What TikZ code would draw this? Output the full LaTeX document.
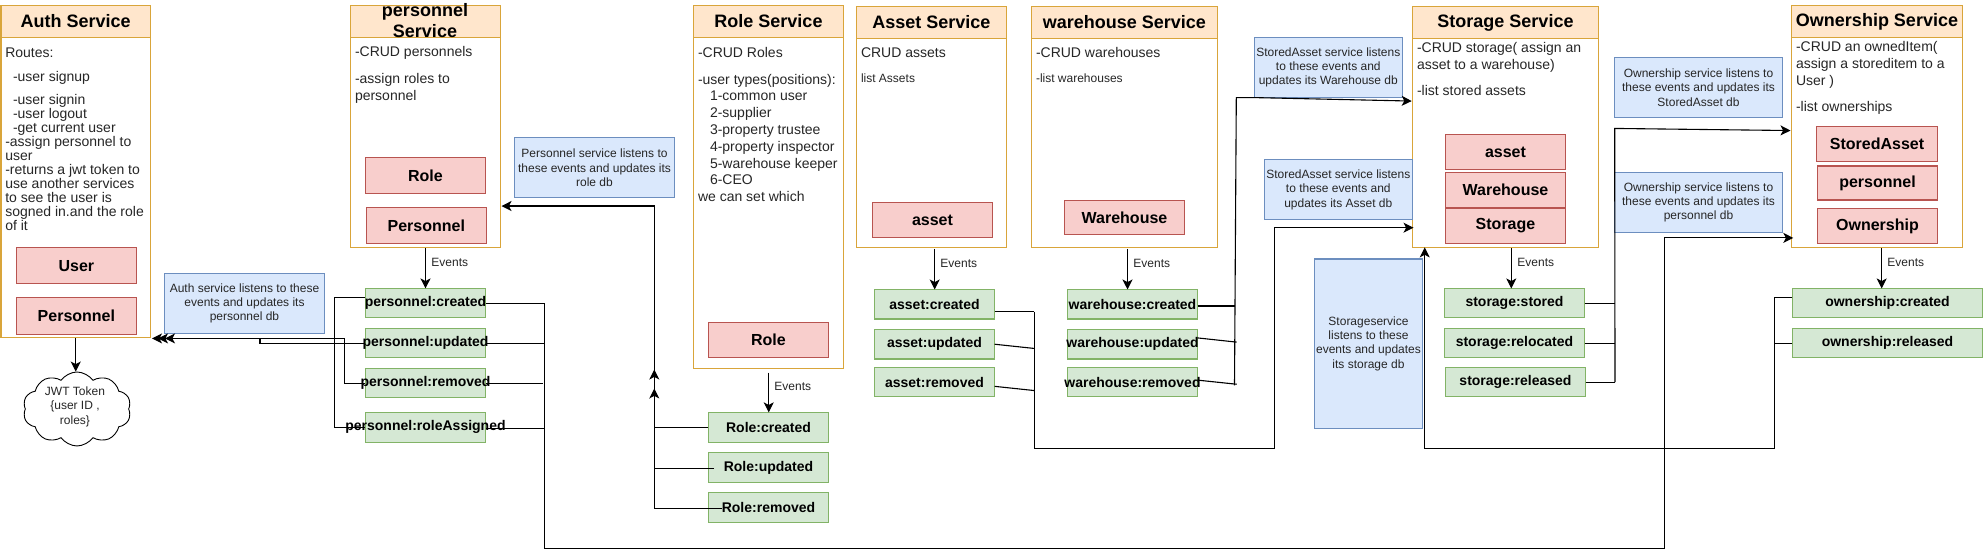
\documentclass[tikz,border=0pt]{standalone}
\usepackage{fontspec}
\setmainfont{Liberation Sans}
\usetikzlibrary{arrows.meta,calc,shapes.symbols}
\definecolor{ofill}{HTML}{FFE6CC}\definecolor{oline}{HTML}{D9A53A}
\definecolor{rfill}{HTML}{F8CECC}\definecolor{rline}{HTML}{B85450}
\definecolor{gfill}{HTML}{D5E8D4}\definecolor{gline}{HTML}{82B366}
\definecolor{bfill}{HTML}{DAE8FC}\definecolor{bline}{HTML}{6C8EBF}
\definecolor{txt}{HTML}{262626}
\newcommand{\bx}[7]{\node[#2,minimum width={(#5-#3)*0.5pt},minimum height={(#6-#4)*0.52635pt}] (#1) at ({(#3+#5)/2},{(#4+#6)/2}) {#7};}
\newcommand{\mk}[1]{\makebox[0pt]{#1}}
\newcommand{\svc}[7]{\bx{#1}{svcbody}{#2}{#3}{#4}{#6}{}\bx{#1h}{svchead}{#2}{#3}{#4}{#5}{\mk{#7}}}
\tikzset{
 base/.style={inner sep=0pt,outer sep=0pt,line width=0.55pt,rectangle},
 svcbody/.style={base,draw=oline,fill=white},
 svchead/.style={base,draw=oline,fill=ofill,font=\fontsize{9}{10}\selectfont\bfseries},
 entity/.style={base,draw=rline,fill=rfill,font=\fontsize{8}{9}\selectfont\bfseries},
 event/.style={base,draw=gline,fill=gfill,font=\fontsize{7}{8}\selectfont\bfseries},
 note/.style={base,draw=bline,fill=bfill,align=center,text=txt,font=\fontsize{6}{7.1}\selectfont},
 body/.style={inner sep=0pt,outer sep=0pt,anchor=base west,align=left,text=txt,font=\fontsize{7}{8.4}\selectfont},
 bodysmall/.style={body,font=\fontsize{6}{7}\selectfont},
 evlabel/.style={inner sep=0pt,anchor=base west,text=txt,font=\fontsize{6}{7}\selectfont},
 wire/.style={line width=0.55pt,black},
 arrowwire/.style={wire,-{Stealth[length=5pt,width=5pt,inset=1.3pt]}},
}
\begin{document}
\begin{tikzpicture}[x=0.5pt,y=-0.52635pt]
\useasboundingbox (0,0) rectangle (1983,521.5);
\fill[white] (0,0) rectangle (1983,521.5);
% Services
\svc{auth}{1}{5}{150.5}{35.7}{321}{Auth Service}
\svc{pers}{350.7}{5}{500.3}{35.7}{235}{}
\node[inner sep=0pt,align=center,font=\fontsize{9}{10.5}\selectfont\bfseries] (perst) at (425,20) {personnel\\Service};
\svc{role}{693.7}{5}{843.3}{35.7}{349.7}{Role Service}
\svc{asset}{856.3}{6}{1006.3}{36.7}{235}{Asset Service}
\svc{ware}{1031.3}{6}{1217.3}{36.7}{235}{warehouse Service}
\svc{stor}{1412.3}{6}{1598.7}{36.7}{235}{Storage Service}
\svc{own}{1791.3}{5}{1962.7}{35.7}{235}{Ownership Service}
% Service text (the reference point is the baseline of the last line)
\node[body,font=\fontsize{7}{7}\selectfont] (authtxt) at (5.3,219) {Routes:\\[5pt]\hspace*{3.85pt}-user signup\\[4.5pt]\hspace*{3.85pt}-user signin\\\hspace*{3.85pt}-user logout\\\hspace*{3.85pt}-get current user\\-assign personnel to\\user\\-returns a jwt token to\\use another services\\to see the user is\\sogned in.and the role\\of it};
\node[body] (perstxt) at (355,95.5) {-CRUD personnels\\[5.2pt]-assign roles to\\personnel};
\node[body] (roletxt) at (698,191.5) {-CRUD Roles\\[5pt]-user types(positions):\\\hspace*{6pt}1-common user\\\hspace*{6pt}2-supplier\\\hspace*{6pt}3-property trustee\\\hspace*{6pt}4-property inspector\\\hspace*{6pt}5-warehouse keeper\\\hspace*{6pt}6-CEO\\we can set which};
\node[body] (assettxt) at (861,54.5) {CRUD assets};
\node[bodysmall] (assettxtb) at (861,78) {list Assets};
\node[body] (waretxt) at (1036,54.5) {-CRUD warehouses};
\node[bodysmall] (waretxtb) at (1036,78) {-list warehouses};
\node[body] (stortxt) at (1417,91) {-CRUD storage( assign an\\asset to a warehouse)\\[4.8pt]-list stored assets};
\node[body] (owntxt) at (1796,106) {-CRUD an ownedItem(\\assign a storeditem to a\\User )\\[4.8pt]-list ownerships};
% Entities
\bx{eUser}{entity}{16.3}{235.3}{136.5}{269.7}{\mk{User}}
\bx{ePers}{entity}{16.3}{283}{136.5}{317.5}{\mk{Personnel}}
\bx{pRole}{entity}{365.3}{149.7}{485.7}{184}{\mk{Role}}
\bx{pPers}{entity}{366.3}{197.3}{486.3}{231.7}{\mk{Personnel}}
\bx{rRole}{entity}{708.3}{306}{828.7}{340}{\mk{Role}}
\bx{aAsset}{entity}{872.3}{192.7}{992.7}{225.3}{\mk{asset}}
\bx{wWare}{entity}{1064.3}{190.7}{1184.7}{223}{\mk{Warehouse}}
\bx{sAsset}{entity}{1445.3}{128}{1565.7}{160.7}{\mk{asset}}
\bx{sWare}{entity}{1445.3}{164}{1565.7}{196.7}{\mk{Warehouse}}
\bx{sStor}{entity}{1445.3}{198}{1565.7}{231}{\mk{Storage}}
\bx{oStored}{entity}{1816.7}{120.3}{1937.3}{153}{\mk{StoredAsset}}
\bx{oPers}{entity}{1817.3}{157.7}{1937.7}{190}{\mk{personnel}}
\bx{oOwn}{entity}{1817.3}{198.3}{1937.7}{231}{\mk{Ownership}}
% Events
\bx{pc}{event}{365.3}{274}{485.7}{302}{\mk{personnel:created}}
\bx{pu}{event}{365.3}{312}{485.7}{340}{\mk{personnel:updated}}
\bx{pr}{event}{365.3}{350}{485.7}{378}{\mk{personnel:removed}}
\bx{pa}{event}{365.3}{392}{485.7}{420}{\mk{personnel:roleAssigned}}
\bx{rc}{event}{708.3}{391.7}{828.7}{420.3}{\mk{Role:created}}
\bx{ru}{event}{708.3}{429.7}{828.7}{458.3}{\mk{Role:updated}}
\bx{rr}{event}{708.3}{467.7}{828.7}{496.3}{\mk{Role:removed}}
\bx{ac}{event}{874.3}{275}{994.7}{303}{\mk{asset:created}}
\bx{au}{event}{874.3}{313}{994.7}{341}{\mk{asset:updated}}
\bx{ar}{event}{874.3}{349}{994.7}{377}{\mk{asset:removed}}
\bx{wc}{event}{1067.3}{275}{1197.7}{303}{\mk{warehouse:created}}
\bx{wu}{event}{1067.3}{313}{1197.7}{341}{\mk{warehouse:updated}}
\bx{wr}{event}{1067.3}{349}{1197.7}{377}{\mk{warehouse:removed}}
\bx{ss}{event}{1444.3}{274}{1584.7}{302}{\mk{storage:stored}}
\bx{sl}{event}{1444.3}{312}{1584.7}{340}{\mk{storage:relocated}}
\bx{sr}{event}{1445.3}{349}{1585.7}{377}{\mk{storage:released}}
\bx{oc}{event}{1792.3}{274}{1982.7}{302}{\mk{ownership:created}}
\bx{or}{event}{1792.3}{312}{1982.7}{340}{\mk{ownership:released}}
% Notes
\bx{nAuth}{note}{164.3}{259.5}{324.7}{316.5}{Auth service listens to these\\events and updates its\\personnel db}
\bx{nPers}{note}{514.3}{130.7}{674.7}{188}{Personnel service listens to\\these events and updates its\\role db}
\bx{nWare}{note}{1254.3}{35.7}{1402.3}{92.7}{StoredAsset service listens\\to these events and\\updates its Warehouse db}
\bx{nAsset}{note}{1264.3}{151.7}{1412.3}{208.7}{StoredAsset service listens\\to these events and\\updates its Asset db}
\bx{nStor}{note}{1314.3}{246}{1422.7}{407}{Storageservice\\listens to these\\events and updates\\its storage db}
\bx{nOwn}{note}{1614.3}{54.7}{1782.7}{111.7}{Ownership service listens to\\these events and updates its\\StoredAsset db}
\bx{nOwnb}{note}{1614.3}{164}{1782.7}{221}{Ownership service listens to\\these events and updates its\\personnel db}
% Cloud
\node[cloud,cloud puffs=10,cloud puff arc=110,aspect=1.5,draw=black,fill=white,line width=0.45pt,inner sep=0pt,minimum width=54pt,minimum height=37pt] (jwt) at (77,388.5) {};
\node[inner sep=0pt,align=center,text=txt,font=\fontsize{6}{7.1}\selectfont] (jwttxt) at (75,386.5) {JWT Token\\\{user ID ,\\roles\}};
% Events labels and arrows
\foreach \s/\e/\xx/\yy in {pers/pc/431/253,role/rc/774/371,asset/ac/940/254,ware/wc/1133/254,stor/ss/1517/253,own/oc/1887/253}{
 \node[evlabel] (lab\s) at (\xx,\yy) {Events};
}
\draw[arrowwire] (auth.south) -- (auth.south |- jwt.north);
\draw[arrowwire] (425.5,236) coordinate (pa0) -- (pa0 |- pc.north);
\draw[arrowwire] (768.7,354) coordinate (ra0) -- (ra0 |- rc.north);
\draw[arrowwire] (934.7,236.5) coordinate (aa0) -- (aa0 |- ac.north);
\draw[arrowwire] (1127.5,236.5) coordinate (wa0) -- (wa0 |- wc.north);
\draw[arrowwire] (1511.3,236) coordinate (sa0) -- (sa0 |- ss.north);
\draw[arrowwire] (1881.7,236) coordinate (oa0) -- (oa0 |- oc.north);
% Personnel events to Auth
\draw[wire] ($(pc.west)+(0,-5)$) -| (334.5,406) -- (pa.west);
\draw[arrowwire] (pu.west) -| (260,321.5) -- (165,321.5);
\draw[arrowwire] (pr.west) -| (344.5,321.5) -- (158,321.5);
\draw[arrowwire] (344.5,321.5) -- (152,321.5);
% Personnel events to Ownership
\coordinate (busPu) at (544.3,326);
\draw[wire] (pu.east) -- (busPu);
\draw[wire] (pr.east) -- (542.7,364);
\draw[wire] ($(pa.east)+(0,1)$) -- (543.5,407);
\draw[arrowwire] (pc.east) -- (544.3,288) -- (544.3,521) -- (1664.3,521) -- (1664.3,226) -- ($(own.west)+(2,106)$);
% Role events to Personnel
\coordinate (rv) at (654.3,483);
\draw[wire] (rc.west) -- (rv |- rc.west);
\draw[wire] (714,445) -- (rv |- 714,445);
\draw[wire] (722,483) -- (rv);
\draw[arrowwire] (rv) -- (654.3,195.7) -- ($(pers.east)+(1.2,75.7)$);
\draw[arrowwire] (rv) -- (654.3,369);
\draw[arrowwire] (rv) -- (654.3,351);
% Asset events to Storage
\draw[wire] ($(ac.east)+(0,7)$) -- (1034.3,296);
\draw[wire] ($(au.east)+(0,0)$) -- (1034.3,331);
\draw[wire] ($(ar.east)+(0,4)$) -- (1034.3,371);
\draw[arrowwire] (1034.3,296) -- (1034.3,426) -- (1274.3,426) -- (1274.3,216.3) -- ($(stor.west)+(1.2,95.8)$);
% Warehouse events to Storage
\draw[wire] ($(wc.east)+(0,1.7)$) -- (1234.8,290.7);
\draw[wire] ($(wu.east)+(0,-6)$) -- (1236.7,325);
\draw[wire] ($(wr.east)+(-1,-2)$) -- (1236.7,365);
\draw[arrowwire] (1234.5,366) -- (1236.3,92.7) -- (1254.3,92.7) -- ($(stor.west)+(-0.6,-24.5)$);
% Storage events to Ownership
\draw[wire] (ss.east) -- (1614.7,288);
\draw[wire] (sl.east) -- (1614.7,326);
\draw[wire] (sr.east) -- (1615,363);
\draw[arrowwire] (1615,363) -- (1614.7,122) -- ($(own.west)+(-0.8,4)$);
% Ownership events to Storage
\draw[wire] (or.west) -- (1775,326);
\draw[arrowwire] ($(oc.west)+(0,-5)$) -| (1774.7,426) -- (1424.7,426) -- (stor.south -| 1424.7,0);
\end{tikzpicture}
\end{document}
